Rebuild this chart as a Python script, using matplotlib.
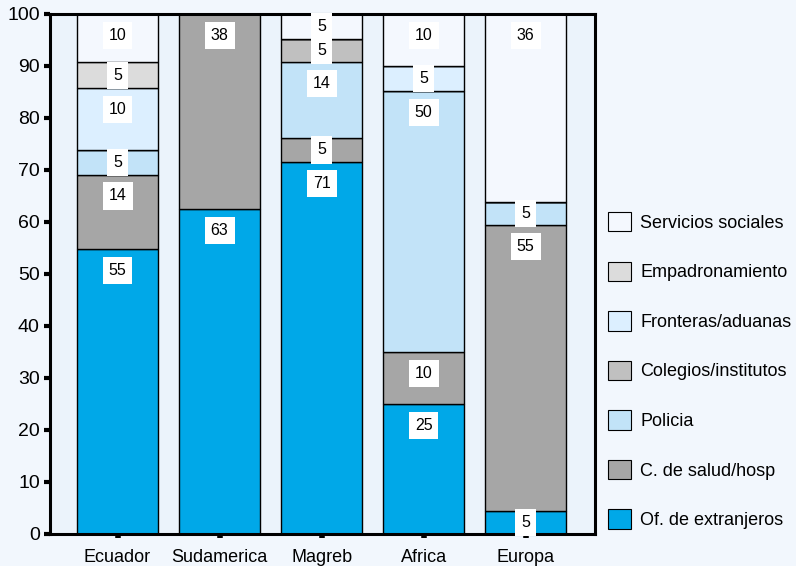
import numpy as np
import matplotlib
matplotlib.use('Agg')
import matplotlib.pyplot as plt
from matplotlib.patches import Patch

plt.rcParams['font.family'] = ['Liberation Sans', 'DejaVu Sans']

regiones = ['Ecuador', 'Sudamerica', 'Magreb', 'Africa', 'Europa']

# series, from the bottom of each stack upwards (heights)
series = ['Of. de extranjeros', 'C. de salud/hosp', 'Policia', 'Colegios/institutos',
          'Fronteras/aduanas', 'Empadronamiento', 'Servicios sociales']
extranjeros = [54.75, 62.5, 71.5, 25.0, 4.5]
salud = [14.35, 37.5, 4.7, 10.0, 54.9]
policia = [4.7, 0, 14.5, 50.1, 4.4]
colegios = [0, 0, 4.5, 0, 0]
fronteras = [12.0, 0, 0, 4.9, 0]
empadronamiento = [4.9, 0, 0, 0, 0]
servicios = [9.3, 0, 4.8, 10.0, 36.2]

# numbers printed in the white boxes
lab_extranjeros = ['55', '63', '71', '25', '5']
lab_salud = ['14', '38', '5', '10', '55']
lab_policia = ['5', '', '14', '50', '5']
lab_colegios = ['', '', '5', '', '']
lab_fronteras = ['10', '', '', '5', '']
lab_empadronamiento = ['5', '', '', '', '']
lab_servicios = ['10', '', '5', '10', '36']

colores = ['#00a8e8', '#a6a6a6', '#c2e3f8', '#c0c0c0', '#dcefff', '#dcdcdc', '#f4f8fe']

valores = [extranjeros, salud, policia, colegios, fronteras, empadronamiento, servicios]
etiquetas = [lab_extranjeros, lab_salud, lab_policia, lab_colegios, lab_fronteras,
             lab_empadronamiento, lab_servicios]

fig = plt.figure(figsize=(7.96, 5.66), dpi=100, facecolor='#f2f7fd')
ax = fig.add_axes([49.5 / 796, 32 / 566, 545 / 796, 520 / 566])
ax.set_facecolor('#ebf3fb')

x = np.arange(len(regiones))
base = np.zeros(len(regiones))
for vals, labs, col in zip(valores, etiquetas, colores):
    vals = np.array(vals, dtype=float)
    ax.bar(x, vals, width=0.8, bottom=base, color=col, edgecolor='black', linewidth=1)
    for i in range(len(regiones)):
        if labs[i] == '':
            continue
        top = base[i] + vals[i]
        ypos = max(top - 4.1, base[i] + vals[i] / 2)
        ax.text(x[i], ypos, labs[i], ha='center', va='center', fontsize=11.5,
                bbox=dict(boxstyle='square,pad=0.38', facecolor='white', edgecolor='none'))
    base = base + vals

ax.set_xlim(-0.667, 4.675)
ax.set_ylim(0, 100)
ax.set_yticks(range(0, 101, 10))
ax.set_xticks(x)
ax.set_xticklabels(regiones)
ax.tick_params(axis='y', direction='out', length=4, width=3, pad=3, labelsize=14)
ax.tick_params(axis='x', direction='out', length=3, width=4, pad=8, labelsize=13)
for s in ax.spines.values():
    s.set_linewidth(2.2)
    s.set_color('black')

handles = [Patch(facecolor=c, edgecolor='black', linewidth=0.8) for c in colores[::-1]]
fig.legend(handles, series[::-1], loc='upper left', bbox_to_anchor=(608 / 796, 1 - 212 / 566),
           frameon=False, fontsize=13, handlelength=1.28, handleheight=1.28,
           labelspacing=1.65, handletextpad=0.5, borderpad=0, borderaxespad=0)

fig.savefig('out.png', dpi=100, facecolor=fig.get_facecolor())
